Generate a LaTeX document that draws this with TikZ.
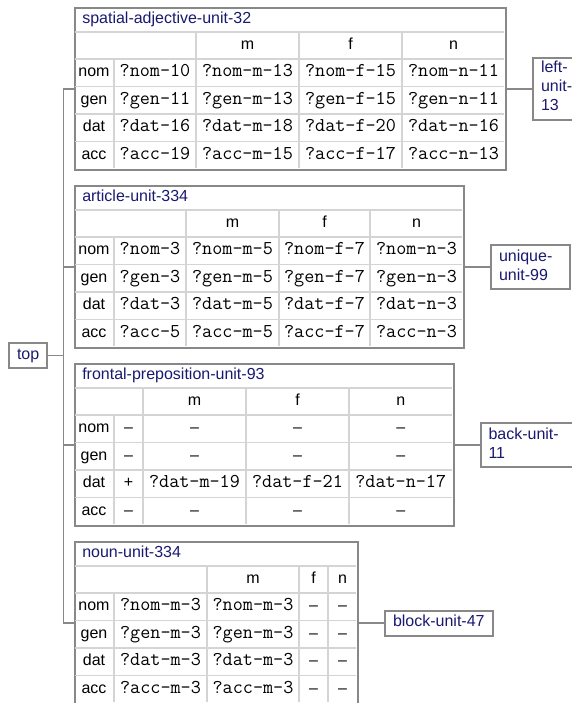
\documentclass[tikz,border=0pt]{standalone}
\usepackage{fontspec}
\setmainfont{Liberation Sans}
\usetikzlibrary{positioning}
\definecolor{unitblue}{RGB}{25,25,112}
\definecolor{framegray}{RGB}{136,136,136}
\definecolor{linegray}{RGB}{212,212,212}
\begin{document}
\begin{tikzpicture}[
    x=0.75pt, y=-0.75pt,
    font=\fontsize{12}{14.25}\selectfont,
    tbl/.style={draw=framegray, line width=1.5pt, anchor=north west,
                minimum height=121.5pt, inner sep=0pt},
    cellline/.style={draw=linegray, line width=1.1pt},
    tabtitle/.style={anchor=west, inner sep=0pt, text=unitblue,
                     text height=8.6pt, text depth=2.6pt},
    casecell/.style={inner sep=0pt, text height=8.6pt, text depth=2.6pt},
    codecell/.style={casecell, font=\ttfamily\fontsize{14.7}{16}\selectfont},
    unitbox/.style={draw=framegray, line width=1.5pt, text=unitblue,
                    align=left, anchor=west, inner xsep=6pt, inner ysep=2.25pt,
                    execute at begin node=\strut, execute at end node=\strut},
    link/.style={draw=framegray, line width=1.1pt}
  ]
    \useasboundingbox (0,0) rectangle (571,703);

    \node[tbl, minimum width=323.25pt] (adj) at (74,7) {};
    \node[tabtitle] (adj-title) at (82,19.5) {spatial-adjective-unit-32};
    \foreach \y in {32,59,86.5,114,141.5} \draw[cellline] (75,\y) -- (504,\y);
    \draw[cellline] (114,59) -- (114,168);
    \foreach \x in {196,299,402} \draw[cellline] (\x,33) -- (\x,168);
    \foreach \g/\x in {m/247.5,f/350.5,n/453.5}
      \node[casecell] (adj-\g) at (\x,45.5) {\g};
    \foreach \cs/\va/\vm/\vf/\vn [count=\i] in {
        nom/?nom-10/?nom-m-13/?nom-f-15/?nom-n-11,
        gen/?gen-11/?gen-m-13/?gen-f-15/?gen-n-11,
        dat/?dat-16/?dat-m-18/?dat-f-20/?dat-n-16,
        acc/?acc-19/?acc-m-15/?acc-f-17/?acc-n-13} {
      \node[casecell] (adj-\cs)   at (94,   45.25+27.5*\i) {\cs};
      \node[codecell] (adj-\cs-x) at (155,  45.25+27.5*\i) {\va};
      \node[codecell] (adj-\cs-m) at (247.5,45.25+27.5*\i) {\vm};
      \node[codecell] (adj-\cs-f) at (350.5,45.25+27.5*\i) {\vf};
      \node[codecell] (adj-\cs-n) at (453.5,45.25+27.5*\i) {\vn};
    }

    \node[tbl, minimum width=291.75pt] (art) at (74,185) {};
    \node[tabtitle] (art-title) at (82,197.5) {article-unit-334};
    \foreach \y in {210,237,264.5,292,319.5} \draw[cellline] (75,\y) -- (462,\y);
    \draw[cellline] (114,237) -- (114,346);
    \foreach \x in {186,279,370} \draw[cellline] (\x,211) -- (\x,346);
    \foreach \g/\x in {m/232.5,f/324.5,n/416.5}
      \node[casecell] (art-\g) at (\x,223.5) {\g};
    \foreach \cs/\va/\vm/\vf/\vn [count=\i] in {
        nom/?nom-3/?nom-m-5/?nom-f-7/?nom-n-3,
        gen/?gen-3/?gen-m-5/?gen-f-7/?gen-n-3,
        dat/?dat-3/?dat-m-5/?dat-f-7/?dat-n-3,
        acc/?acc-5/?acc-m-5/?acc-f-7/?acc-n-3} {
      \node[casecell] (art-\cs)   at (94,   223.25+27.5*\i) {\cs};
      \node[codecell] (art-\cs-x) at (150,  223.25+27.5*\i) {\va};
      \node[codecell] (art-\cs-m) at (232.5,223.25+27.5*\i) {\vm};
      \node[codecell] (art-\cs-f) at (324.5,223.25+27.5*\i) {\vf};
      \node[codecell] (art-\cs-n) at (416.5,223.25+27.5*\i) {\vn};
    }

    \node[tbl, minimum width=283.875pt] (prep) at (74,363) {};
    \node[tabtitle] (prep-title) at (82,375.5) {frontal-preposition-unit-93};
    \foreach \y in {388,415,442.5,470,497.5} \draw[cellline] (75,\y) -- (451.5,\y);
    \draw[cellline] (114,415) -- (114,524);
    \foreach \x in {143,246,349} \draw[cellline] (\x,389) -- (\x,524);
    \foreach \g/\x in {m/194.5,f/297.5,n/400.75}
      \node[casecell] (prep-\g) at (\x,401.5) {\g};
    \foreach \cs/\i in {nom/1,gen/2,acc/4} {
      \node[casecell] (prep-\cs)   at (94,    401.25+27.5*\i) {\cs};
      \node[casecell] (prep-\cs-x) at (128.5, 401.25+27.5*\i) {–};
      \node[casecell] (prep-\cs-m) at (194.5, 401.25+27.5*\i) {–};
      \node[casecell] (prep-\cs-f) at (297.5, 401.25+27.5*\i) {–};
      \node[casecell] (prep-\cs-n) at (400.75,401.25+27.5*\i) {–};
    }
    \node[casecell] (prep-dat)   at (94,    483.75) {dat};
    \node[casecell] (prep-dat-x) at (128.5, 483.75) {+};
    \node[codecell] (prep-dat-m) at (194.5, 483.75) {?dat-m-19};
    \node[codecell] (prep-dat-f) at (297.5, 483.75) {?dat-f-21};
    \node[codecell] (prep-dat-n) at (400.75,483.75) {?dat-n-17};

    \node[tbl, minimum width=212.25pt] (noun) at (74,541) {};
    \node[tabtitle] (noun-title) at (82,553.5) {noun-unit-334};
    \foreach \y in {566,593,620.5,648,675.5} \draw[cellline] (75,\y) -- (356,\y);
    \draw[cellline] (114,593) -- (114,702);
    \foreach \x in {207,299,328} \draw[cellline] (\x,567) -- (\x,702);
    \foreach \g/\x in {m/253,f/313.5,n/342.5}
      \node[casecell] (noun-\g) at (\x,579.5) {\g};
    \foreach \cs [count=\i] in {nom,gen,dat,acc} {
      \node[casecell] (noun-\cs)   at (94,   579.25+27.5*\i) {\cs};
      \node[codecell] (noun-\cs-x) at (160.5,579.25+27.5*\i) {?\cs-m-3};
      \node[codecell] (noun-\cs-m) at (253,  579.25+27.5*\i) {?\cs-m-3};
      \node[casecell] (noun-\cs-f) at (313.5,579.25+27.5*\i) {–};
      \node[casecell] (noun-\cs-n) at (342.5,579.25+27.5*\i) {–};
    }

    \node[unitbox] (topunit) at (8,355.5) {top};
    \node[unitbox, right=18.75pt of adj] (leftunit) {left-\\unit-\\13};
    \node[unitbox, right=18.75pt of art, text width=47.6pt] (uniqueunit) {unique-\\unit-99};
    \node[unitbox, right=18.75pt of prep, text width=57pt] (backunit) {back-unit-\\11};
    \node[unitbox, right=18.75pt of noun] (blockunit) {block-unit-47};

    \draw[link] (topunit.east) -- ++(15,0) |- (adj.west);
    \draw[link] (topunit.east) -- ++(15,0) |- (art.west);
    \draw[link] (topunit.east) -- ++(15,0) |- (prep.west);
    \draw[link] (topunit.east) -- ++(15,0) |- (noun.west);
    \draw[link] (adj.east)  -- ++(13.5,0) |- (leftunit.west);
    \draw[link] (art.east)  -- ++(13.5,0) |- (uniqueunit.west);
    \draw[link] (prep.east) -- ++(13.5,0) |- (backunit.west);
    \draw[link] (noun.east) -- ++(13.5,0) |- (blockunit.west);
  \end{tikzpicture}
\end{document}
